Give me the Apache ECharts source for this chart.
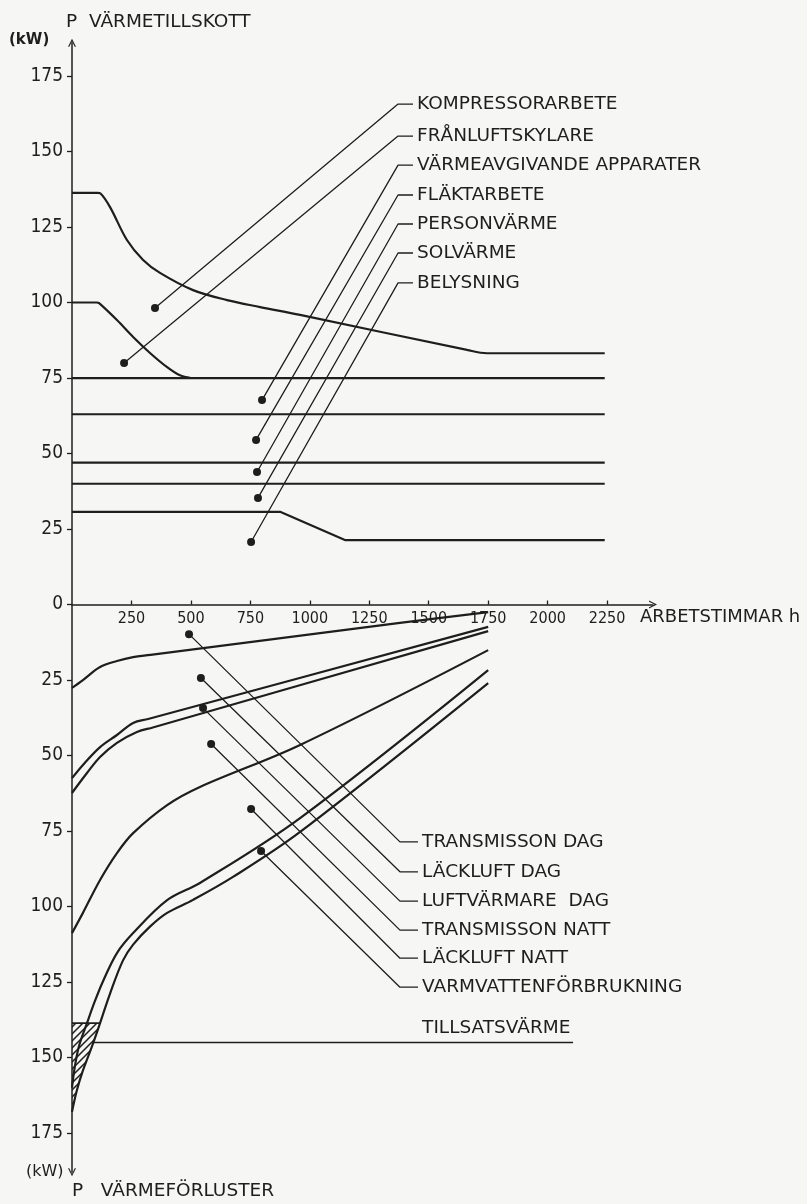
<!DOCTYPE html>
<html><head><meta charset="utf-8">
<script src="https://cdn.jsdelivr.net/npm/echarts@6/dist/echarts.min.js"></script>
<style>html,body{margin:0;padding:0;background:#f6f6f4}#c{width:807px;height:1204px}</style>
</head><body><div id="c"></div>
<script>
// ---------- data ----------
const xTicks = [250, 500, 750, 1000, 1250, 1500, 1750, 2000, 2250];
const yTicks = [-175, -150, -125, -100, -75, -50, -25, 0, 25, 50, 75, 100, 125, 150, 175];

// heat supply (upper half), cumulative boundaries
const kompressor = [[0,136.3],[108,136.3],[120,136.1],[160,131.6],[231,120.7],[299,114.1],[370,109.8],[509,104.1],[652,100.8],[791,98.5],[959,95.9],[1661,84.3],[1745,83.2],[2240,83.2]];
const franluft = [[0,100],[104,100],[114,99.8],[189,94.2],[257,88.6],[328,83.3],[400,78.6],[454,75.9],[500,75]];
const varmeavg = [[0,75],[2240,75]];
const flakt = [[0,63],[2240,63]];
const person = [[0,47],[2240,47]];
const sol = [[0,40],[2240,40]];
const belysning = [[0,30.7],[875,30.7],[1150,21.3],[2240,21.3]];

// heat losses (lower half), cumulative boundaries
const transDag = [[0,-27.6],[46,-25],[118,-20.7],[189,-18.7],[257,-17.4],[330,-16.7],[1379,-6.1],[1750,-2.5]];
const lackDag = [[0,-57.5],[46,-53.1],[118,-47.2],[189,-43.2],[257,-39.2],[320,-37.9],[1750,-7.4]];
const luftDag = [[0,-62.4],[63,-55.8],[118,-50.5],[189,-45.8],[273,-42.2],[340,-40.7],[1750,-8.8]];
const transNatt = [[0,-108.8],[46,-102.1],[118,-91.2],[189,-82.3],[257,-75.7],[400,-66.4],[538,-60.4],[959,-46.5],[1750,-15.1]];
const lackNatt = [[0,-160],[12,-153],[30,-146],[63,-138.6],[95,-131.6],[130,-124.8],[189,-115.4],[257,-108.8],[400,-97.9],[538,-92.2],[959,-70.7],[1750,-21.7]];
const varmvatten = [[0,-168],[20,-161],[45,-154.5],[84,-146.3],[118,-138.6],[160,-128.8],[214,-117.9],[257,-112.6],[330,-106.5],[400,-102.1],[509,-97.8],[677,-90.2],[959,-75.3],[1750,-26]];
const tillsatsLevel = -138.6;
const tillsatsLine = [[84,-145],[2107,-145]];

// annotation labels
const topLabels = ['KOMPRESSORARBETE','FRÅNLUFTSKYLARE','VÄRMEAVGIVANDE APPARATER','FLÄKTARBETE','PERSONVÄRME','SOLVÄRME','BELYSNING'];
const topLabelY = [165.7,155.1,145.5,135.6,126.0,116.4,106.5];
const topDots = [[349,98.2],[219,80.0],[799,67.7],[774,54.5],[778,43.9],[782,35.3],[753,20.7]];
const topBendX = 1371, topDashEndX = 1434, topTextX = 1451;

const botLabels = ['TRANSMISSON DAG','LÄCKLUFT DAG','LUFTVÄRMARE  DAG','TRANSMISSON NATT','LÄCKLUFT NATT','VARMVATTENFÖRBRUKNING'];
const botLabelY = [-78.6,-88.5,-98.2,-107.8,-117.1,-126.7];
const botDots = [[492,-9.8],[542,-24.3],[551,-34.3],[585,-46.2],[753,-67.7],[795,-81.6]];
const botBendX = 1379, botDashEndX = 1455, botTextX = 1472;
const tillsatsLabel = {name:'TILLSATSVÄRME', value:[1472,-140.2]};

// ---------- chart ----------
const INK = '#1e1e1e';
const FNUM = '"DejaVu Sans Condensed","Liberation Sans Narrow","DejaVu Sans",sans-serif';
const FTXT = '"DejaVu Sans",sans-serif';
const X_MIN = 0, X_MAX = 2443, Y_MIN = -188, Y_MAX = 186;
const GRID = {left:72, width:581, top:42.8, height:1129.5};

// hatch pattern
const pc = document.createElement('canvas');
pc.width = 7; pc.height = 7;
const pctx = pc.getContext('2d');
pctx.strokeStyle = INK; pctx.lineWidth = 1.5;
pctx.beginPath();
pctx.moveTo(-1,8); pctx.lineTo(8,-1);
pctx.moveTo(-1,1); pctx.lineTo(1,-1);
pctx.moveTo(6,8); pctx.lineTo(8,6);
pctx.stroke();

const arrowPath = 'path://M0,10 L5,0 L10,10 L8.4,10 L5,3 L1.6,10 Z';

function curve(name, data, smooth) {
  return {type:'line', name, data, showSymbol:false, symbol:'none', smooth: smooth === undefined ? 0.35 : smooth,
    lineStyle:{color:INK, width:2.2}, silent:true, z:3};
}
function leader(dot, ly, bendX, endX) {
  return {type:'line', data:[dot,[bendX,ly],[endX,ly]], showSymbol:false, symbol:'none',
    lineStyle:{color:INK, width:1.3}, silent:true, z:2};
}

const hatchPoly = varmvatten.filter(p => p[0] <= 118).concat([[0, tillsatsLevel]]);

const series = [
  curve('Kompressorarbete', kompressor),
  curve('Frånluftskylare', franluft),
  curve('Värmeavgivande apparater', varmeavg, false),
  curve('Fläktarbete', flakt, false),
  curve('Personvärme', person, false),
  curve('Solvärme', sol, false),
  curve('Belysning', belysning, false),
  curve('Transmisson dag', transDag),
  curve('Läckluft dag', lackDag),
  curve('Luftvärmare dag', luftDag),
  curve('Transmisson natt', transNatt),
  curve('Läckluft natt', lackNatt),
  curve('Varmvattenförbrukning', varmvatten),
  {type:'line', name:'Tillsatsvärme', data:tillsatsLine, showSymbol:false, symbol:'none', lineStyle:{color:INK,width:1.6}, silent:true, z:3},
  {type:'line', data:[[0,tillsatsLevel],[118,tillsatsLevel]], showSymbol:false, symbol:'none', lineStyle:{color:INK,width:1.8}, silent:true, z:3},
  {type:'custom', data:[0], silent:true, z:1,
    renderItem:(params, api) => ({type:'polygon', shape:{points:hatchPoly.map(p=>api.coord(p))},
      style:{fill:{image:pc, repeat:'repeat'}, stroke:null}})}
];
topDots.forEach((d,i)=>series.push(leader(d, topLabelY[i], topBendX, topDashEndX)));
botDots.forEach((d,i)=>series.push(leader(d, botLabelY[i], botBendX, botDashEndX)));
series.push({type:'scatter', data: topDots.concat(botDots), symbolSize:8, itemStyle:{color:INK, opacity:1}, silent:true, z:4});
const labelData = topLabels.map((n,i)=>({name:n, value:[topTextX, topLabelY[i]]}))
  .concat(botLabels.map((n,i)=>({name:n, value:[botTextX, botLabelY[i]]})))
  .concat([tillsatsLabel]);
series.push({type:'scatter', data:labelData, symbolSize:0, silent:true, z:5, itemStyle:{opacity:1},
  label:{show:true, position:'right', distance:0, formatter:'{b}', color:INK, opacity:1, fontFamily:FTXT, fontSize:18.5}});

// x axis sits on the zero line
const xOffset = -GRID.height * (0 - Y_MIN) / (Y_MAX - Y_MIN);

const chart = echarts.init(document.getElementById('c'), null, {renderer:'canvas'});
chart.setOption({
  backgroundColor:'#f6f6f4',
  animation:false,
  grid:GRID,
  xAxis:{type:'value', min:X_MIN, max:X_MAX, position:'bottom', offset:xOffset,
    axisLine:{onZero:false, symbol:['none', arrowPath], symbolSize:[12,8], lineStyle:{color:INK, width:1.5}},
    axisTick:{customValues:xTicks, inside:true, length:4, lineStyle:{color:INK, width:1.3}},
    axisLabel:{customValues:xTicks, margin:6, color:INK, fontFamily:FNUM, fontSize:16, formatter:v=>String(v)},
    splitLine:{show:false},
    name:'ARBETSTIMMAR h', nameLocation:'end', nameGap:-13,
    nameTextStyle:{align:'left', verticalAlign:'top', padding:[4,0,0,0], color:INK, fontFamily:FTXT, fontSize:18}
  },
  yAxis:{type:'value', min:Y_MIN, max:Y_MAX,
    axisLine:{symbol:[arrowPath, arrowPath], symbolSize:[12,8], lineStyle:{color:INK, width:1.5}},
    axisTick:{customValues:yTicks, length:5, lineStyle:{color:INK, width:1.3}},
    axisLabel:{customValues:yTicks, margin:9, color:INK, fontFamily:FNUM, fontSize:19, formatter:v=>String(Math.abs(v))},
    splitLine:{show:false}
  },
  graphic:[
    {type:'text', left:66, top:13, style:{text:'P  VÄRMETILLSKOTT', fill:INK, font:'18.5px '+FTXT}},
    {type:'text', left:9, top:33, style:{text:'(kW)', fill:INK, font:'bold 15px '+FTXT}},
    {type:'text', left:26, top:1164, style:{text:'(kW)', fill:INK, font:'16px '+FTXT}},
    {type:'text', left:72, top:1182, style:{text:'P   VÄRMEFÖRLUSTER', fill:INK, font:'18.5px '+FTXT}}
  ],
  series
});
</script></body></html>
